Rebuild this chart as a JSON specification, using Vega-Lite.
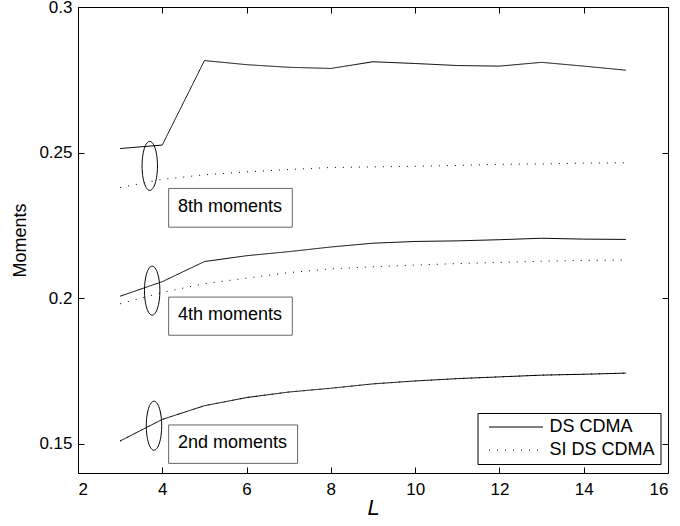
{
  "$schema": "https://vega.github.io/schema/vega-lite/v6.json",
  "width": 590,
  "height": 466,
  "autosize": {"type": "none"},
  "padding": {"left": 78, "top": 7, "right": 12, "bottom": 53},
  "background": "white",
  "config": {
    "view": {"stroke": null},
    "font": "Liberation Sans",
    "axis": {
      "domainColor": "black",
      "tickColor": "black",
      "labelColor": "black",
      "titleColor": "black",
      "grid": false,
      "labelFont": "Liberation Sans",
      "titleFont": "Liberation Sans",
      "labelFontSize": 17,
      "titleFontWeight": "normal",
      "tickSize": -6,
      "domainWidth": 1,
      "tickWidth": 1
    },
    "legend": {
      "orient": "none",
      "legendX": 399.5,
      "legendY": 406,
      "strokeColor": "black",
      "fillColor": "white",
      "padding": 5,
      "symbolType": "stroke",
      "symbolSize": 2916,
      "clipHeight": 18,
      "symbolStrokeWidth": 1,
      "symbolStrokeColor": "black",
      "symbolOffset": 6,
      "labelOffset": 6,
      "labelFontSize": 18,
      "labelFont": "Liberation Sans",
      "labelColor": "black",
      "rowPadding": 5,
      "cornerRadius": 0
    }
  },
  "datasets": {
    "lines": [
      {"L": 3, "moment": "8th", "series": "DS CDMA", "v": 0.2514},
      {"L": 4, "moment": "8th", "series": "DS CDMA", "v": 0.2526},
      {"L": 5, "moment": "8th", "series": "DS CDMA", "v": 0.2816},
      {"L": 6, "moment": "8th", "series": "DS CDMA", "v": 0.2802},
      {"L": 7, "moment": "8th", "series": "DS CDMA", "v": 0.2793},
      {"L": 8, "moment": "8th", "series": "DS CDMA", "v": 0.2789},
      {"L": 9, "moment": "8th", "series": "DS CDMA", "v": 0.2812},
      {"L": 10, "moment": "8th", "series": "DS CDMA", "v": 0.2806},
      {"L": 11, "moment": "8th", "series": "DS CDMA", "v": 0.2799},
      {"L": 12, "moment": "8th", "series": "DS CDMA", "v": 0.2797},
      {"L": 13, "moment": "8th", "series": "DS CDMA", "v": 0.2810},
      {"L": 14, "moment": "8th", "series": "DS CDMA", "v": 0.2797},
      {"L": 15, "moment": "8th", "series": "DS CDMA", "v": 0.2783},
      {"L": 3, "moment": "8th", "series": "SI DS CDMA", "v": 0.2380},
      {"L": 4, "moment": "8th", "series": "SI DS CDMA", "v": 0.2408},
      {"L": 5, "moment": "8th", "series": "SI DS CDMA", "v": 0.2424},
      {"L": 6, "moment": "8th", "series": "SI DS CDMA", "v": 0.2434},
      {"L": 7, "moment": "8th", "series": "SI DS CDMA", "v": 0.2442},
      {"L": 8, "moment": "8th", "series": "SI DS CDMA", "v": 0.2449},
      {"L": 9, "moment": "8th", "series": "SI DS CDMA", "v": 0.2451},
      {"L": 10, "moment": "8th", "series": "SI DS CDMA", "v": 0.2453},
      {"L": 11, "moment": "8th", "series": "SI DS CDMA", "v": 0.2456},
      {"L": 12, "moment": "8th", "series": "SI DS CDMA", "v": 0.2460},
      {"L": 13, "moment": "8th", "series": "SI DS CDMA", "v": 0.2461},
      {"L": 14, "moment": "8th", "series": "SI DS CDMA", "v": 0.2464},
      {"L": 15, "moment": "8th", "series": "SI DS CDMA", "v": 0.2465},
      {"L": 3, "moment": "4th", "series": "DS CDMA", "v": 0.2007},
      {"L": 4, "moment": "4th", "series": "DS CDMA", "v": 0.2057},
      {"L": 5, "moment": "4th", "series": "DS CDMA", "v": 0.2126},
      {"L": 6, "moment": "4th", "series": "DS CDMA", "v": 0.2146},
      {"L": 7, "moment": "4th", "series": "DS CDMA", "v": 0.2160},
      {"L": 8, "moment": "4th", "series": "DS CDMA", "v": 0.2176},
      {"L": 9, "moment": "4th", "series": "DS CDMA", "v": 0.2189},
      {"L": 10, "moment": "4th", "series": "DS CDMA", "v": 0.2195},
      {"L": 11, "moment": "4th", "series": "DS CDMA", "v": 0.2197},
      {"L": 12, "moment": "4th", "series": "DS CDMA", "v": 0.2201},
      {"L": 13, "moment": "4th", "series": "DS CDMA", "v": 0.2206},
      {"L": 14, "moment": "4th", "series": "DS CDMA", "v": 0.2203},
      {"L": 15, "moment": "4th", "series": "DS CDMA", "v": 0.2202},
      {"L": 3, "moment": "4th", "series": "SI DS CDMA", "v": 0.1981},
      {"L": 4, "moment": "4th", "series": "SI DS CDMA", "v": 0.2020},
      {"L": 5, "moment": "4th", "series": "SI DS CDMA", "v": 0.2050},
      {"L": 6, "moment": "4th", "series": "SI DS CDMA", "v": 0.2069},
      {"L": 7, "moment": "4th", "series": "SI DS CDMA", "v": 0.2088},
      {"L": 8, "moment": "4th", "series": "SI DS CDMA", "v": 0.2101},
      {"L": 9, "moment": "4th", "series": "SI DS CDMA", "v": 0.2108},
      {"L": 10, "moment": "4th", "series": "SI DS CDMA", "v": 0.2114},
      {"L": 11, "moment": "4th", "series": "SI DS CDMA", "v": 0.2119},
      {"L": 12, "moment": "4th", "series": "SI DS CDMA", "v": 0.2123},
      {"L": 13, "moment": "4th", "series": "SI DS CDMA", "v": 0.2127},
      {"L": 14, "moment": "4th", "series": "SI DS CDMA", "v": 0.2130},
      {"L": 15, "moment": "4th", "series": "SI DS CDMA", "v": 0.2131},
      {"L": 3, "moment": "2nd", "series": "DS CDMA", "v": 0.1510},
      {"L": 4, "moment": "2nd", "series": "DS CDMA", "v": 0.1584},
      {"L": 5, "moment": "2nd", "series": "DS CDMA", "v": 0.1631},
      {"L": 6, "moment": "2nd", "series": "DS CDMA", "v": 0.1659},
      {"L": 7, "moment": "2nd", "series": "DS CDMA", "v": 0.1678},
      {"L": 8, "moment": "2nd", "series": "DS CDMA", "v": 0.1691},
      {"L": 9, "moment": "2nd", "series": "DS CDMA", "v": 0.1706},
      {"L": 10, "moment": "2nd", "series": "DS CDMA", "v": 0.1716},
      {"L": 11, "moment": "2nd", "series": "DS CDMA", "v": 0.1724},
      {"L": 12, "moment": "2nd", "series": "DS CDMA", "v": 0.1730},
      {"L": 13, "moment": "2nd", "series": "DS CDMA", "v": 0.1736},
      {"L": 14, "moment": "2nd", "series": "DS CDMA", "v": 0.1739},
      {"L": 15, "moment": "2nd", "series": "DS CDMA", "v": 0.1743},
      {"L": 3, "moment": "2nd", "series": "SI DS CDMA", "v": 0.1510},
      {"L": 4, "moment": "2nd", "series": "SI DS CDMA", "v": 0.1584},
      {"L": 5, "moment": "2nd", "series": "SI DS CDMA", "v": 0.1631},
      {"L": 6, "moment": "2nd", "series": "SI DS CDMA", "v": 0.1659},
      {"L": 7, "moment": "2nd", "series": "SI DS CDMA", "v": 0.1678},
      {"L": 8, "moment": "2nd", "series": "SI DS CDMA", "v": 0.1691},
      {"L": 9, "moment": "2nd", "series": "SI DS CDMA", "v": 0.1706},
      {"L": 10, "moment": "2nd", "series": "SI DS CDMA", "v": 0.1716},
      {"L": 11, "moment": "2nd", "series": "SI DS CDMA", "v": 0.1724},
      {"L": 12, "moment": "2nd", "series": "SI DS CDMA", "v": 0.1730},
      {"L": 13, "moment": "2nd", "series": "SI DS CDMA", "v": 0.1736},
      {"L": 14, "moment": "2nd", "series": "SI DS CDMA", "v": 0.1739},
      {"L": 15, "moment": "2nd", "series": "SI DS CDMA", "v": 0.1743}
    ],
    "boxes": [
      {"label": "8th moments", "x1": 4.151, "x2": 7.085, "y1": 0.2377, "y2": 0.2244, "tx": 4.372, "ty": 0.2297},
      {"label": "4th moments", "x1": 4.151, "x2": 7.085, "y1": 0.2004, "y2": 0.1873, "tx": 4.372, "ty": 0.19247},
      {"label": "2nd moments", "x1": 4.151, "x2": 7.211, "y1": 0.1565, "y2": 0.1433, "tx": 4.372, "ty": 0.14857}
    ],
    "ellipses": [
      {"moment": "8th", "L": 3.703, "v": 0.24545},
      {"moment": "4th", "L": 3.760, "v": 0.20261},
      {"moment": "2nd", "L": 3.803, "v": 0.15624}
    ]
  },
  "resolve": {"axis": {"x": "independent", "y": "independent"}},
  "layer": [
    {
      "data": {"name": "lines"},
      "mark": {"type": "line", "color": "black", "strokeWidth": 1},
      "encoding": {
        "x": {"field": "L", "type": "quantitative",
              "scale": {"domain": [2, 16], "nice": false, "zero": false},
              "axis": {"orient": "bottom", "values": [2, 4, 6, 8, 10, 12, 14, 16], "format": "d", "labelPadding": 14, "title": "L", "titleFontStyle": "italic", "titleFontSize": 22, "titlePadding": 0}},
        "y": {"field": "v", "type": "quantitative",
              "scale": {"domain": [0.14, 0.3], "nice": false, "zero": false},
              "axis": {"orient": "left", "values": [0.15, 0.2, 0.25, 0.3], "format": "~g", "labelPadding": 12, "title": "Moments", "titleFontSize": 18, "titlePadding": 9}},
        "strokeDash": {"field": "series", "type": "nominal",
                       "scale": {"domain": ["DS CDMA", "SI DS CDMA"], "range": [[1, 0], [1, 7]]},
                       "legend": {"title": null}},
        "detail": {"field": "moment", "type": "nominal"}
      }
    },
    {
      "data": {"name": "ellipses"},
      "mark": {"type": "point", "filled": false, "color": "black", "strokeWidth": 1, "opacity": 1, "size": 2401,
               "shape": "M0,-1A0.314,1,0,1,1,0,1A0.314,1,0,1,1,0,-1Z"},
      "encoding": {
        "x": {"field": "L", "type": "quantitative", "axis": {"orient": "top", "values": [2, 4, 6, 8, 10, 12, 14, 16], "labels": false, "title": null}},
        "y": {"field": "v", "type": "quantitative", "axis": {"orient": "right", "values": [0.15, 0.2, 0.25, 0.3], "labels": false, "title": null}}
      }
    },
    {
      "data": {"name": "boxes"},
      "mark": {"type": "rect", "fill": "white", "stroke": "#666666", "strokeWidth": 1},
      "encoding": {
        "x": {"field": "x1", "type": "quantitative", "axis": null},
        "x2": {"field": "x2"},
        "y": {"field": "y1", "type": "quantitative", "axis": null},
        "y2": {"field": "y2"}
      }
    },
    {
      "data": {"name": "boxes"},
      "mark": {"type": "text", "align": "left", "baseline": "alphabetic", "fontSize": 18, "font": "Liberation Sans", "color": "black"},
      "encoding": {
        "x": {"field": "tx", "type": "quantitative", "axis": null},
        "y": {"field": "ty", "type": "quantitative", "axis": null},
        "text": {"field": "label"}
      }
    }
  ]
}
